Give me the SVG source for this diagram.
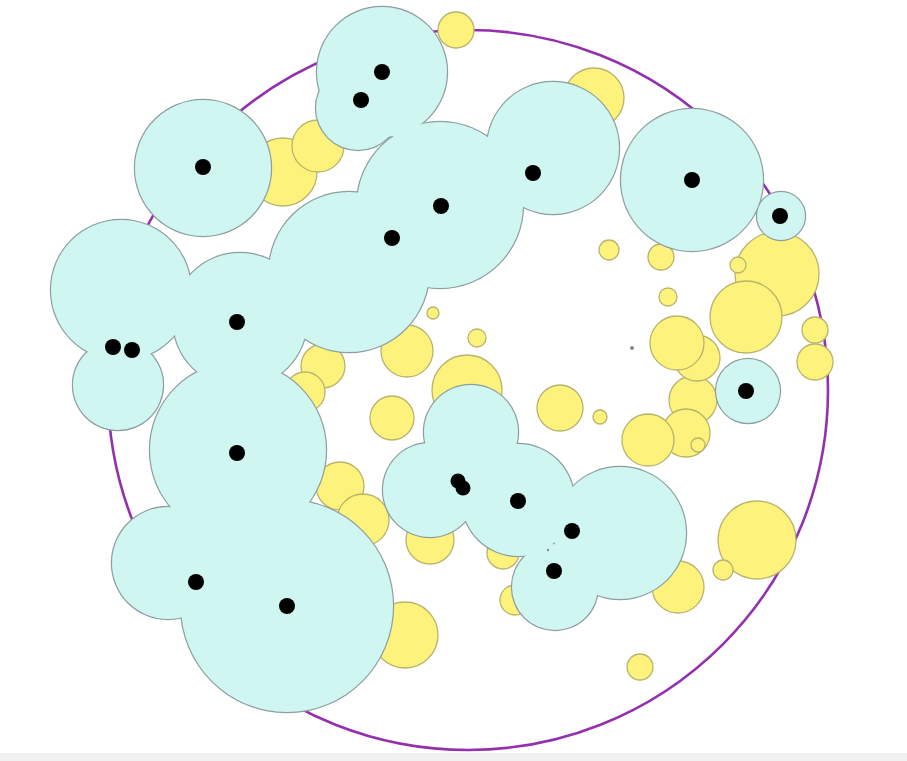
<svg xmlns="http://www.w3.org/2000/svg" width="907" height="761" viewBox="0 0 907 761">
<defs>
<style>
.ring{fill:none;stroke:#9430ae;stroke-width:2.6}
.y{fill:#fdf27c;stroke:#b8b46c;stroke-width:1.3}
.co circle{fill:#8d9da0}
.cf circle{fill:#cff6f1}
.d circle{fill:#000}
.g{fill:#8a8a8a}
</style>
</defs>
<rect width="907" height="761" fill="#ffffff"/>
<rect x="0" y="753" width="907" height="8" fill="#f1f1f1"/>
<circle id="boundary" class="ring" cx="468" cy="390" r="360"/>
<g id="yellow">
<circle class="y" cx="456" cy="30" r="18"/>
<circle class="y" cx="594" cy="98" r="30"/>
<circle class="y" cx="283" cy="172" r="34"/>
<circle class="y" cx="318" cy="146" r="26"/>
<circle class="y" cx="433" cy="313" r="6"/>
<circle class="y" cx="477" cy="338" r="9"/>
<circle class="y" cx="407" cy="351" r="26"/>
<circle class="y" cx="467" cy="390" r="35"/>
<circle class="y" cx="392" cy="418" r="22"/>
<circle class="y" cx="560" cy="408" r="23"/>
<circle class="y" cx="600" cy="417" r="7"/>
<circle class="y" cx="323" cy="366" r="22"/>
<circle class="y" cx="305" cy="392" r="20"/>
<circle class="y" cx="340" cy="486" r="24"/>
<circle class="y" cx="363" cy="520" r="26"/>
<circle class="y" cx="430" cy="540" r="24"/>
<circle class="y" cx="503" cy="553" r="16"/>
<circle class="y" cx="515" cy="600" r="15"/>
<circle class="y" cx="405" cy="635" r="33"/>
<circle class="y" cx="693" cy="400" r="24"/>
<circle class="y" cx="686" cy="433" r="24"/>
<circle class="y" cx="648" cy="440" r="26"/>
<circle class="y" cx="698" cy="445" r="7"/>
<circle class="y" cx="678" cy="587" r="26"/>
<circle class="y" cx="757" cy="540" r="39"/>
<circle class="y" cx="723" cy="570" r="10"/>
<circle class="y" cx="640" cy="667" r="13"/>
<circle class="y" cx="609" cy="250" r="10"/>
<circle class="y" cx="661" cy="257" r="13"/>
<circle class="y" cx="668" cy="297" r="9"/>
<circle class="y" cx="777" cy="274" r="42"/>
<circle class="y" cx="738" cy="265" r="8"/>
<circle class="y" cx="746" cy="317" r="36"/>
<circle class="y" cx="815" cy="330" r="13"/>
<circle class="y" cx="815" cy="362" r="18"/>
<circle class="y" cx="697" cy="358" r="23"/>
<circle class="y" cx="677" cy="343" r="27"/>
</g>
<g id="cyan-outline" class="co">
<circle cx="382" cy="72" r="66.2"/>
<circle cx="358" cy="108" r="43.2"/>
<circle cx="203" cy="168" r="69.2"/>
<circle cx="440" cy="205" r="84.2"/>
<circle cx="349" cy="272" r="81.2"/>
<circle cx="553" cy="148" r="67.2"/>
<circle cx="692" cy="180" r="72.2"/>
<circle cx="781" cy="216" r="25.2"/>
<circle cx="121" cy="290" r="71.2"/>
<circle cx="118" cy="385" r="46.2"/>
<circle cx="240" cy="320" r="68.2"/>
<circle cx="238" cy="450" r="89.2"/>
<circle cx="168" cy="563" r="57.2"/>
<circle cx="287" cy="606" r="107.2"/>
<circle cx="748" cy="391" r="33.2"/>
<circle cx="471" cy="432" r="48.2"/>
<circle cx="430" cy="490" r="48.2"/>
<circle cx="518" cy="500" r="57.2"/>
<circle cx="620" cy="533" r="67.2"/>
<circle cx="555" cy="587" r="44.2"/>
</g>
<g id="cyan-fill" class="cf">
<circle cx="382" cy="72" r="65"/>
<circle cx="358" cy="108" r="42"/>
<circle cx="203" cy="168" r="68"/>
<circle cx="440" cy="205" r="83"/>
<circle cx="349" cy="272" r="80"/>
<circle cx="553" cy="148" r="66"/>
<circle cx="692" cy="180" r="71"/>
<circle cx="781" cy="216" r="24"/>
<circle cx="121" cy="290" r="70"/>
<circle cx="118" cy="385" r="45"/>
<circle cx="240" cy="320" r="67"/>
<circle cx="238" cy="450" r="88"/>
<circle cx="168" cy="563" r="56"/>
<circle cx="287" cy="606" r="106"/>
<circle cx="748" cy="391" r="32"/>
<circle cx="471" cy="432" r="47"/>
<circle cx="430" cy="490" r="47"/>
<circle cx="518" cy="500" r="56"/>
<circle cx="620" cy="533" r="66"/>
<circle cx="555" cy="587" r="43"/>
</g>
<g id="dots" class="d">
<circle cx="382" cy="72" r="8"/>
<circle cx="361" cy="100" r="8"/>
<circle cx="203" cy="167" r="8"/>
<circle cx="441" cy="206" r="8"/>
<circle cx="392" cy="238" r="8"/>
<circle cx="533" cy="173" r="8"/>
<circle cx="692" cy="180" r="8"/>
<circle cx="780" cy="216" r="8"/>
<circle cx="237" cy="322" r="8"/>
<circle cx="113" cy="347" r="8"/>
<circle cx="132" cy="350" r="8"/>
<circle cx="746" cy="391" r="8"/>
<circle cx="237" cy="453" r="8"/>
<circle cx="458" cy="481" r="7.5"/>
<circle cx="463" cy="488" r="7.5"/>
<circle cx="518" cy="501" r="8"/>
<circle cx="572" cy="531" r="8"/>
<circle cx="554" cy="571" r="8"/>
<circle cx="196" cy="582" r="8"/>
<circle cx="287" cy="606" r="8"/>
</g>
<circle class="g" cx="632" cy="348" r="2"/>
<circle class="g" cx="548" cy="550" r="1.2"/>
</svg>
